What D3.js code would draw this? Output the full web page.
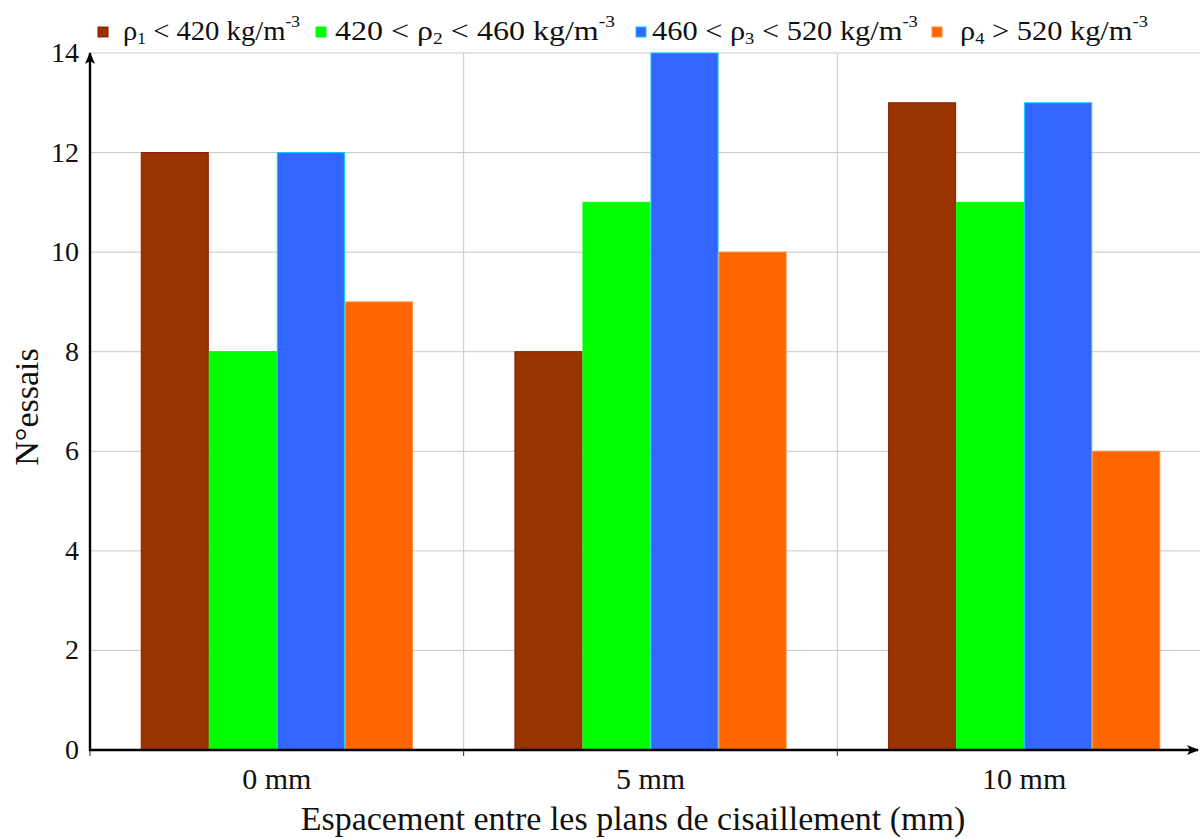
<!DOCTYPE html>
<html><head><meta charset="utf-8">
<script src="https://cdn.jsdelivr.net/npm/d3@7"></script>
<style>body{margin:0;background:#fff}svg{font-family:"Liberation Serif","DejaVu Serif",serif}</style>
</head><body>
<svg id="c" width="1200" height="839"></svg>
<script>
const categories = ["0 mm", "5 mm", "10 mm"];
const seriesNames = ["rho1", "rho2", "rho3", "rho4"];
const rho1 = [12, 8, 13];
const rho2 = [8, 11, 11];
const rho3 = [12, 14, 13];
const rho4 = [9, 10, 6];
const yTicks = [0, 2, 4, 6, 8, 10, 12, 14];
const colors = ["#993300", "#00ff00", "#3366ff", "#ff6600"];
const strokes = ["#8a1a00", "#00ff00", "#00ccff", "#ff8833"];

const values = [rho1, rho2, rho3, rho4];
const svg = d3.select("#c");
const L = 90, R = 1211, T = 53, B = 750;
const x = d3.scaleBand().domain(categories).range([L, R]).paddingInner(0).paddingOuter(0);
const xs = d3.scaleBand().domain(seriesNames).range([0, x.bandwidth()]).paddingInner(0).paddingOuter(0.746);
const y = d3.scaleLinear().domain([0, 14]).range([B, T]);

// grid
const g = svg.append("g");
g.selectAll(".hg").data(yTicks.filter(d => d > 0)).join("line")
  .attr("x1", L).attr("x2", 1200).attr("y1", d => y(d)).attr("y2", d => y(d))
  .attr("stroke", "#c8c8c8").attr("stroke-width", 1);
const vlines = [x("5 mm"), x("10 mm")];
g.selectAll(".vg").data(vlines).join("line")
  .attr("x1", d => d).attr("x2", d => d).attr("y1", T).attr("y2", B)
  .attr("stroke", "#c8c8c8").attr("stroke-width", 1);

// bars
categories.forEach((c, ci) => {
  seriesNames.forEach((s, si) => {
    const v = values[si][ci];
    svg.append("rect")
      .attr("x", x(c) + xs(s) + 0.5)
      .attr("y", y(v))
      .attr("width", xs.bandwidth() - 1)
      .attr("height", B - y(v))
      .attr("fill", colors[si])
      .attr("stroke", strokes[si]).attr("stroke-width", 1);
  });
});

// y tick labels
svg.selectAll(".yt").data(yTicks).join("text")
  .attr("x", 79).attr("y", d => y(d) + 9)
  .attr("text-anchor", "end").attr("font-size", 28).attr("fill", "#111")
  .text(d => d);

// x tick marks
svg.selectAll(".xt").data([L, x("5 mm"), x("10 mm")]).join("line")
  .attr("x1", d => d).attr("x2", d => d).attr("y1", B).attr("y2", B + 6)
  .attr("stroke", "#222").attr("stroke-width", 1);
svg.selectAll(".xl").data(categories).join("text")
  .attr("x", d => x(d) + x.bandwidth() / 2).attr("y", 789)
  .attr("text-anchor", "middle").attr("font-size", 30).attr("fill", "#111")
  .text(d => d);

// axes with arrows
const defs = svg.append("defs");
defs.append("marker").attr("id", "arr").attr("viewBox", "0 0 12 10")
  .attr("refX", 11).attr("refY", 5).attr("markerWidth", 12).attr("markerHeight", 10)
  .attr("markerUnits", "userSpaceOnUse").attr("orient", "auto")
  .append("path").attr("d", "M0,0 L12,5 L0,10 L3,5 Z").attr("fill", "#000");
svg.append("line").attr("x1", L).attr("x2", L).attr("y1", B + 1).attr("y2", 53)
  .attr("stroke", "#000").attr("stroke-width", 2.4).attr("marker-end", "url(#arr)");
svg.append("line").attr("x1", L - 1).attr("x2", 1198).attr("y1", B).attr("y2", B)
  .attr("stroke", "#000").attr("stroke-width", 2.4).attr("marker-end", "url(#arr)");

// axis titles
svg.append("text").attr("x", 633).attr("y", 830).attr("text-anchor", "middle")
  .attr("font-size", 34).attr("fill", "#111").text("Espacement entre les plans de cisaillement (mm)");
svg.append("text").attr("transform", "translate(38,407) rotate(-90)").attr("text-anchor", "middle")
  .attr("font-size", 34).attr("fill", "#111").text("N°essais");

// legend
const legend = [
  {sq: 98, tx: 123, w: 177, parts: [["ρ", ""], ["1", "sub"], [" < 420 kg/m", ""], ["-3", "sup"]]},
  {sq: 316, tx: 335, w: 280, parts: [["420 < ρ", ""], ["2", "sub"], [" < 460 kg/m", ""], ["-3", "sup"]]},
  {sq: 636, tx: 652, w: 266, parts: [["460 < ρ", ""], ["3", "sub"], [" < 520 kg/m", ""], ["-3", "sup"]]},
  {sq: 932, tx: 960, w: 188, parts: [["ρ", ""], ["4", "sub"], [" > 520 kg/m", ""], ["-3", "sup"]]}
];
legend.forEach((l, i) => {
  svg.append("rect").attr("x", l.sq).attr("y", 27).attr("width", 10).attr("height", 10)
    .attr("fill", colors[i]).attr("stroke", strokes[i]).attr("stroke-width", 1);
  const t = svg.append("text").attr("x", l.tx).attr("y", 40).attr("font-size", 28).attr("fill", "#111");
  l.parts.forEach((p, k) => {
    const ts = t.append("tspan").text(p[0]);
    if (p[1] === "sub") ts.attr("font-size", 17).attr("dy", 4);
    else if (p[1] === "sup") ts.attr("font-size", 17).attr("dy", -13);
    else if (k > 0) ts.attr("dy", -4);
  });
  const bw = t.node().getBBox().width;
  const s = bw > 0 ? l.w / bw : 1;
  t.attr("transform", `translate(${l.tx},0) scale(${s},1) translate(${-l.tx},0)`);
});
</script>
</body></html>
